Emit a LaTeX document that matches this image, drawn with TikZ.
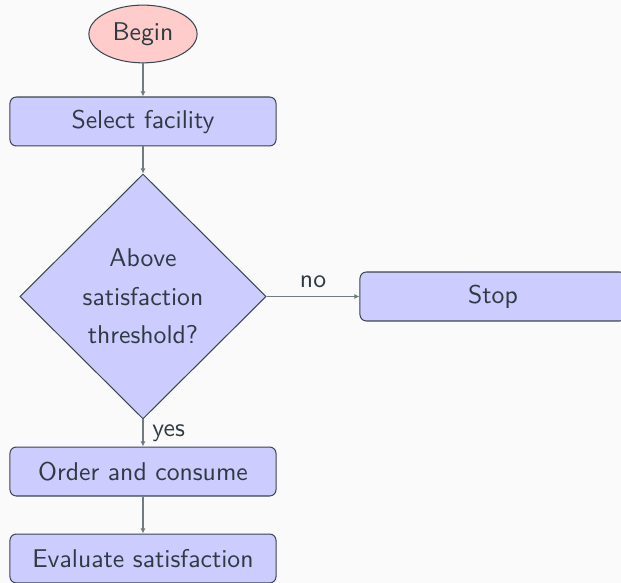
\documentclass[tikz,border=0pt]{standalone}
\usepackage{tikz}
\usetikzlibrary{shapes.geometric,arrows.meta}
\definecolor{bgcol}{HTML}{FAFAFA}
\definecolor{textcol}{HTML}{2F3B42}
\definecolor{linecol}{HTML}{3A4650}
\definecolor{arrowcol}{HTML}{6F7C80}

\begin{document}
\begin{tikzpicture}[font=\sffamily, text=textcol,
    startstop/.style={ellipse, draw=linecol, fill=red!20, minimum width=1.48cm, minimum height=0.79cm, inner sep=0pt},
    process/.style={rectangle, rounded corners=2.5pt, draw=linecol, fill=blue!20, minimum width=3.64cm, minimum height=0.67cm},
    decision/.style={diamond, draw=linecol, fill=blue!20, minimum width=3.37cm, minimum height=3.35cm, inner sep=0pt, align=center},
    arrow/.style={draw=arrowcol, -{Latex[length=2pt,width=2pt]}}]%様式
                \fill[bgcol] (0,0) rectangle (8.495,-7.975);%背景
                \useasboundingbox (0,0) rectangle (8.495,-7.975);
                \clip (0,0) rectangle (8.495,-7.975);
                \node[startstop] (begin) at (1.956,-0.465) {Begin};%開始
                \node[process] (select) at (1.956,-1.662) {Select facility};
                \node[decision] (check) at (1.956,-4.056) {Above\\[3pt]satisfaction\\[3pt]threshold?};%判定
                \node[process] (stop) at (6.744,-4.056) {Stop};
                \node[process] (order) at (1.956,-6.450) {Order and consume};
                \node[process] (evaluate) at (1.956,-7.640) {Evaluate satisfaction};
                \draw[arrow] (begin) -- (select);
                \draw[arrow] (select) -- (check);
                \draw[arrow] (check) -- node[above] {no} (stop);
                \draw[arrow] (check) -- node[right, inner sep=3.5pt] {yes} (order);
                \draw[arrow] (order) -- (evaluate);
            \end{tikzpicture}
\end{document}
